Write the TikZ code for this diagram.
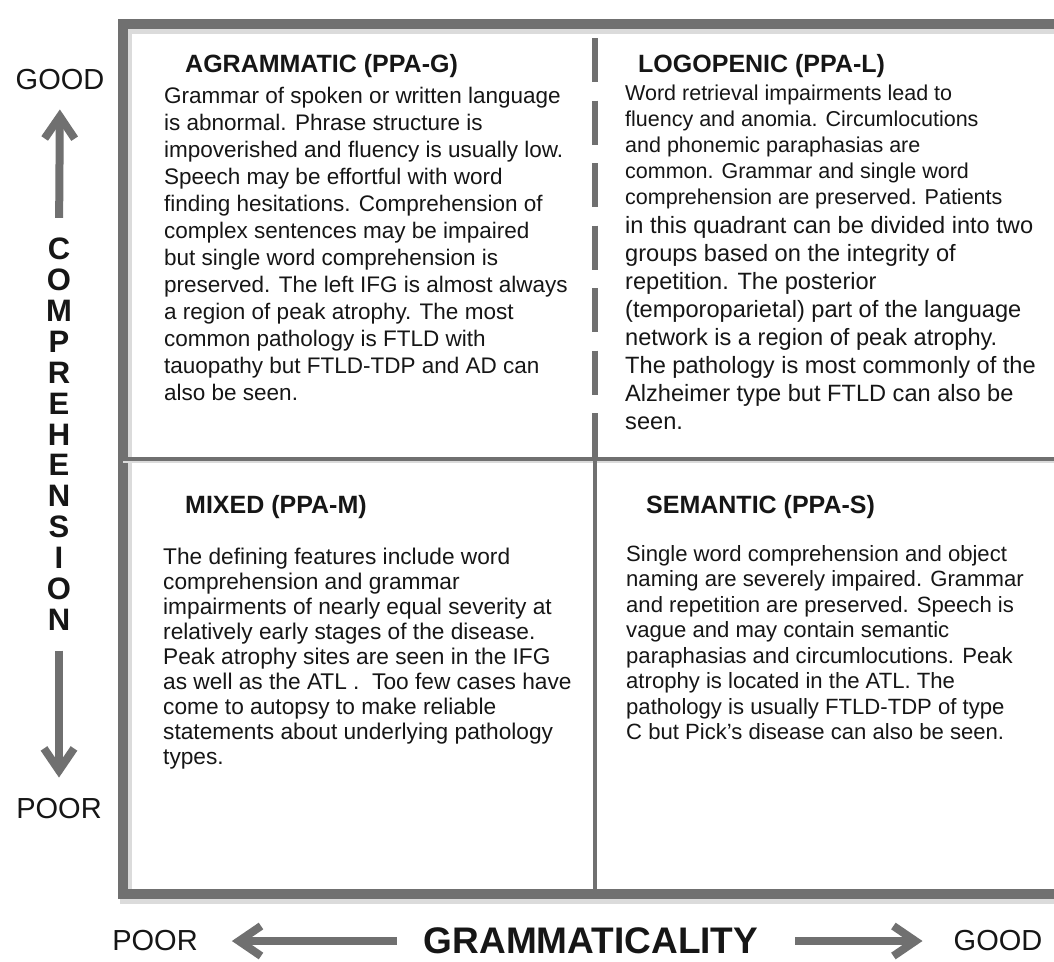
\documentclass[tikz,border=0pt]{standalone}
\usepackage{fontspec}
\setmainfont{Liberation Sans}
\usetikzlibrary{arrows.meta}
\definecolor{linegray}{RGB}{112,112,112}
\definecolor{inkblack}{RGB}{22,22,22}
\tikzset{
  head/.style={anchor=base west, inner sep=0pt, text=inkblack,
    font=\fontsize{25}{30}\selectfont\bfseries},
  bodytext/.style={anchor=north west, inner sep=0pt, align=left, text=inkblack},
  axislabel/.style={inner sep=0pt, text=inkblack, font=\fontsize{29}{34}\selectfont},
  axisletter/.style={inner sep=0pt, text=inkblack, font=\fontsize{31}{36}\selectfont\bfseries},
  axisarrow/.style={draw=linegray, line width=8pt, -{Straight Barb[length=22pt,width=30pt]}},
  frameline/.style={draw=linegray, line width=10pt},
  frameshadow/.style={draw=black!14, line width=12pt},
  divider/.style={draw=linegray, line width=4.5pt},
  dashdivider/.style={draw=linegray, line width=6pt, dash pattern=on 44pt off 18.5pt},
}
\begin{document}
\begin{tikzpicture}[x=1pt, y=-1pt]
  \clip (0,0) rectangle (1054,961);
  \fill [white] (0,0) rectangle (1054,961);
  % frame and quadrants
  \draw [frameshadow] (126,28) rectangle (1078,898);
  \draw [frameline] (123,24) rectangle (1075,894);
  \coordinate (midleft) at (123,459);
  \coordinate (midright) at (1075,459);
  \coordinate (midtop) at (595,38);
  \coordinate (midcross) at (595,459);
  \coordinate (midbottom) at (595,894);
  \draw [frameshadow, line width=4pt] ([yshift=-2pt]midleft) -- ([yshift=-2pt]midright);
  \draw [divider] (midleft) -- (midright);
  \draw [dashdivider] (midtop) -- (midcross);
  \draw [divider, line width=4pt] (midcross) -- (midbottom);

  \node (aghead) at (185,72) [head] {AGRAMMATIC (PPA-G)};
  \node (agtext) at (164,87) [bodytext, font=\fontsize{22.5}{27}\selectfont]
    {Grammar of spoken or written language\\
     is abnormal. Phrase structure is\\
     impoverished and fluency is usually low.\\
     Speech may be effortful with word\\
     finding hesitations. Comprehension of\\
     complex sentences may be impaired\\
     but single word comprehension is\\
     preserved. The left IFG is almost always\\
     a region of peak atrophy. The most\\
     common pathology is FTLD with\\
     tauopathy but FTLD-TDP and AD can\\
     also be seen.};

  \node (lghead) at (638,72) [head] {LOGOPENIC (PPA-L)};
  \node (lgtext) at (625,85) [bodytext, font=\fontsize{21.5}{26}\selectfont]
    {Word retrieval impairments lead to\\
     fluency and anomia. Circumlocutions\\
     and phonemic paraphasias are\\
     common. Grammar and single word\\
     comprehension are preserved. Patients};
  \node (lgmore) at (625,216) [bodytext, font=\fontsize{23.6}{28}\selectfont]
    {in this quadrant can be divided into two\\
     groups based on the integrity of\\
     repetition. The posterior\\
     (temporoparietal) part of the language\\
     network is a region of peak atrophy.\\
     The pathology is most commonly of the\\
     Alzheimer type but FTLD can also be\\
     seen.};

  \node (mxhead) at (185,513) [head] {MIXED (PPA-M)};
  \node (mxtext) at (163,548) [bodytext, font=\fontsize{22.7}{25}\selectfont]
    {The defining features include word\\
     comprehension and grammar\\
     impairments of nearly equal severity at\\
     relatively early stages of the disease.\\
     Peak atrophy sites are seen in the IFG\\
     as well as the ATL .~ Too few cases have\\
     come to autopsy to make reliable\\
     statements about underlying pathology\\
     types.};

  \node (smhead) at (646,513) [head] {SEMANTIC (PPA-S)};
  \node (smtext) at (626,545) [bodytext, font=\fontsize{22.1}{25.5}\selectfont]
    {Single word comprehension and object\\
     naming are severely impaired. Grammar\\
     and repetition are preserved. Speech is\\
     vague and may contain semantic\\
     paraphasias and circumlocutions. Peak\\
     atrophy is located in the ATL. The\\
     pathology is usually FTLD-TDP of type\\
     C but Pick's disease can also be seen.};

  % comprehension axis
  \node (goodleft) at (60,80) [axislabel] {GOOD};
  \node (poorleft) at (59,809) [axislabel] {POOR};
  \foreach \letter [count=\i from 0] in {C,O,M,P,R,E,H,E,N,S,I,O,N}
    \node (comp\i) at (59,{249+30.9*\i}) [axisletter] {\letter};
  \draw [axisarrow, shorten <=20pt, shorten >=19pt] (comp0.north) -- (goodleft.south);
  \draw [axisarrow, shorten <=20pt, shorten >=21pt] (comp12.south) -- (poorleft.north);

  % grammaticality axis
  \node (poorbottom) at (155,941) [axislabel] {POOR};
  \node (gram) at (591,941) [inner sep=0pt, text=inkblack,
    font=\fontsize{37}{40}\selectfont\bfseries] {GRAMMATICALITY};
  \node (goodbottom) at (998,941) [axislabel] {GOOD};
  \draw [axisarrow, shorten <=27pt, shorten >=34pt] (gram.west) -- (poorbottom.east);
  \draw [axisarrow, shorten <=37pt, shorten >=31pt] (gram.east) -- (goodbottom.west);
\end{tikzpicture}
\end{document}
